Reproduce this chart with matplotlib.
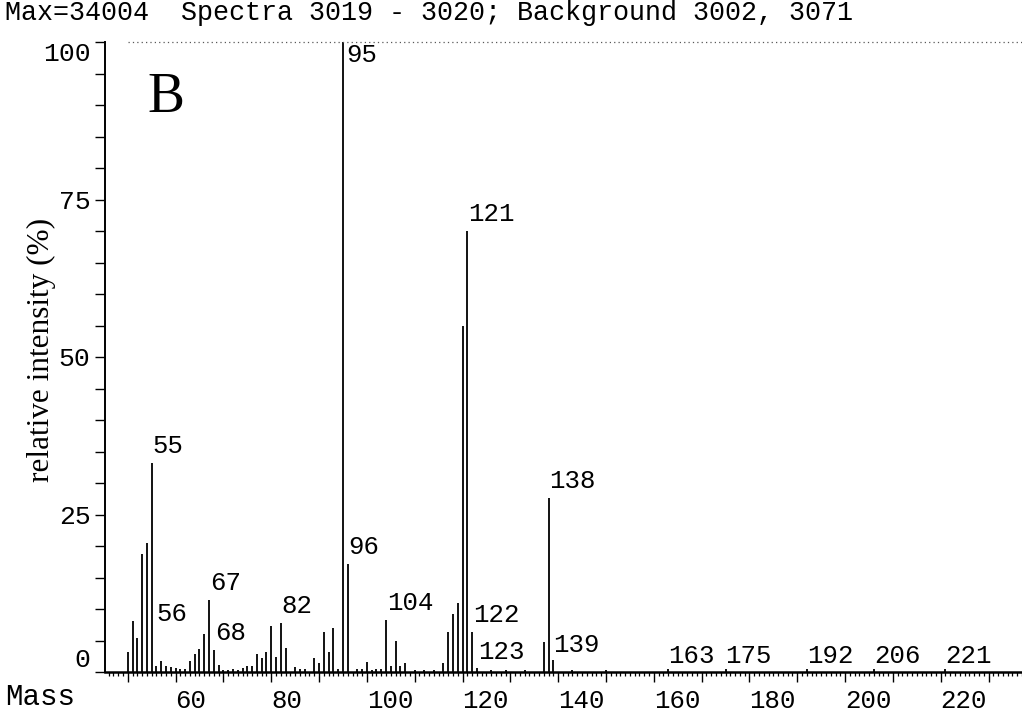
import matplotlib
matplotlib.use("Agg")
import matplotlib.pyplot as plt
from matplotlib.ticker import MultipleLocator, FixedLocator, FuncFormatter

# ---- spectrum data -------------------------------------------------------
masses = [50, 51, 52, 53, 54, 55, 56, 57, 58, 59, 60, 61, 62, 63, 64, 65, 66,
          67, 68, 69, 70, 71, 72, 73, 74, 75, 76, 77, 78, 79, 80, 81, 82, 83,
          85, 86, 87, 89, 90, 91, 92, 93, 94, 95, 96, 98, 99, 100, 101, 102,
          103, 104, 105, 106, 107, 108, 110, 112, 114, 116, 117, 118, 119,
          120, 121, 122, 123, 126, 129, 133, 137, 138, 139, 143, 150, 163,
          175, 192, 206, 221]
intensity = [3.2, 8.1, 5.4, 18.7, 20.5, 33.2, 1.0, 1.8, 0.9, 0.8, 0.6, 0.4,
             0.5, 1.7, 2.9, 3.7, 6.0, 11.4, 3.5, 1.1, 0.3, 0.3, 0.4, 0.3, 0.6,
             0.9, 1.0, 2.9, 2.2, 3.2, 7.3, 2.4, 7.7, 3.8, 0.8, 0.4, 0.5, 2.2,
             1.4, 6.3, 3.1, 7.0, 0.4, 100.0, 17.2, 0.5, 0.5, 1.6, 0.3, 0.4,
             0.4, 8.2, 1.0, 4.9, 1.0, 1.5, 0.3, 0.3, 0.3, 1.4, 6.4, 9.2, 10.9,
             55.0, 70.0, 6.4, 0.6, 0.3, 0.3, 0.3, 4.8, 27.6, 1.9, 0.3, 0.3,
             0.4, 0.4, 0.4, 0.4, 0.4]
labelled = [55, 56, 67, 68, 82, 95, 96, 104, 121, 122, 123, 138, 139,
            163, 175, 192, 206, 221]

title = "Max=34004  Spectra 3019 - 3020; Background 3002, 3071"
y_ticks = [0, 25, 50, 75, 100]

# ---- figure ----------------------------------------------------------------
mono = "Liberation Mono"
serif = "Liberation Serif"

fig = plt.figure(figsize=(10.22, 7.12), dpi=100)
ax = fig.add_axes([105 / 1022, 40 / 712, 917 / 1022, 630 / 712])
ax.set_xlim(45.24, 237.0)
ax.set_ylim(0, 100)

ax.vlines(masses, 0, intensity, colors="black", linewidth=1.3, clip_on=False)

# dotted 100 % reference line
ax.axhline(100, xmin=0.025, xmax=1.0, color="0.35", linewidth=0.9,
           linestyle=(0, (1, 2.5)), clip_on=False)

# peak labels, placed just above each peak
nudge = {95: (3, -13), 56: (0, 52), 123: (1, 16), 139: (0, 15),
         163: (0, 13), 175: (0, 13), 192: (0, 13), 206: (0, 13), 221: (0, 13)}
lookup = dict(zip(masses, intensity))
for m in labelled:
    dx, dy = nudge.get(m, (1, 17))
    ax.annotate(str(m), (m, lookup[m]), xytext=(dx, dy),
                textcoords="offset pixels", ha="left", va="center",
                fontfamily=mono, fontsize=18.5, color="black",
                annotation_clip=False)

# spines
for side in ("top", "right"):
    ax.spines[side].set_visible(False)
ax.spines["left"].set_linewidth(1.4)
ax.spines["bottom"].set_linewidth(1.8)

# y axis
ax.yaxis.set_major_locator(FixedLocator(y_ticks))
ax.yaxis.set_minor_locator(MultipleLocator(5))
ax.tick_params(axis="y", which="both", direction="out", length=7.5,
               width=1.0, pad=3)
ax.set_yticklabels([str(v) for v in y_ticks], fontfamily=mono, fontsize=19)
ylabels = ax.get_yticklabels()
ylabels[0].set_va("bottom")
ylabels[-1].set_va("top")

# x axis: ticks every mass unit, long ticks every 10, labels every 20
ax.xaxis.set_major_locator(MultipleLocator(10))
ax.xaxis.set_minor_locator(MultipleLocator(1))
ax.xaxis.set_major_formatter(
    FuncFormatter(lambda v, p: f"{int(round(v))}" if round(v) % 20 == 0 else ""))
ax.tick_params(axis="x", which="major", direction="out", length=7, width=1.0,
               pad=5)
ax.tick_params(axis="x", which="minor", direction="out", length=3, width=0.9)
for lab in ax.get_xticklabels():
    lab.set_fontfamily(mono)
    lab.set_fontsize(18.5)
    lab.set_ha("left")

# text around the plot
fig.text(5 / 1022, 1 - 20 / 712, title, fontfamily=mono, fontsize=19.3,
         ha="left", va="baseline")
fig.text(5 / 1022, 1 - 705 / 712, "Mass", fontfamily=mono, fontsize=21,
         ha="left", va="baseline")
fig.text(147 / 1022, 1 - 112 / 712, "B", fontfamily=serif, fontsize=40,
         ha="left", va="baseline")
fig.text(41 / 1022, 1 - 350 / 712, "relative intensity (%)", fontfamily=serif,
         fontsize=22.5, rotation=90, ha="center", va="center")

fig.savefig("out.png", dpi=100)
